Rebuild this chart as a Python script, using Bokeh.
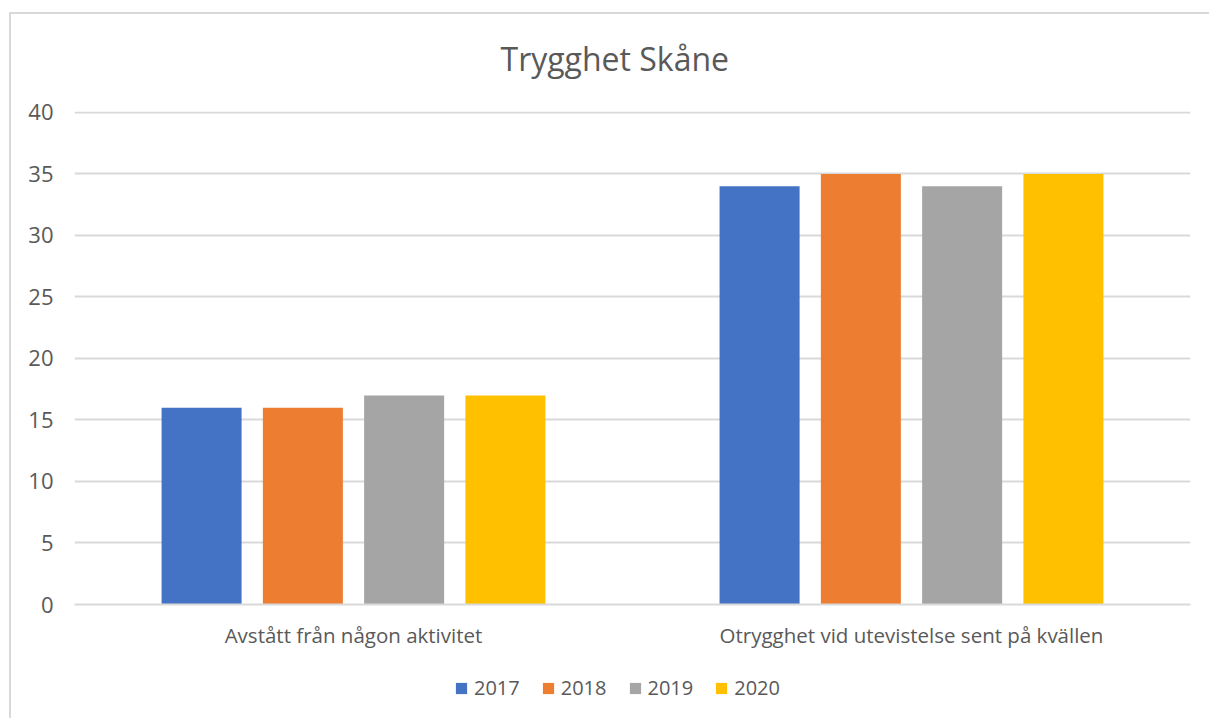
from bokeh.plotting import figure
from bokeh.layouts import column
from bokeh.models import (FactorRange, Range1d, ColumnDataSource, Legend, LegendItem,
                          SingleIntervalTicker)
from bokeh.transform import dodge
from bokeh.embed import file_html
from bokeh.resources import INLINE

categories = ["Avstått från någon aktivitet", "Otrygghet vid utevistelse sent på kvällen"]
years = ["2017", "2018", "2019", "2020"]
v2017 = [16, 34]
v2018 = [16, 35]
v2019 = [17, 34]
v2020 = [17, 35]
series = [v2017, v2018, v2019, v2020]
colors = ["#4472C4", "#ED7D31", "#A5A5A5", "#FFC000"]
title_text = "Trygghet Skåne"

FONT = "Open Sans"
TXT = "#595959"
LINE = "#d9d9d9"

src = ColumnDataSource(dict(cat=categories, **{y: s for y, s in zip(years, series)}))

# ---------------- main chart ----------------
p = figure(width=1209, height=660, frame_width=1116, frame_height=493,
           x_range=FactorRange(*categories, range_padding=0),
           y_range=Range1d(0, 40.08), output_backend="svg", toolbar_location=None,
           min_border_left=74, min_border_right=19, min_border_top=111, min_border_bottom=56)
p.styles = {"background": (f"linear-gradient({LINE}, {LINE}) 9px 12px / 2px 100% no-repeat, "
                           f"linear-gradient({LINE}, {LINE}) 9px 12px / 100% 2px no-repeat, white")}
p.outline_line_color = None
p.background_fill_color = "white"
p.border_fill_color = None

p.title.text = title_text
p.title.align = "left"
p.title.offset = 426
p.title.standoff = 64
p.title.text_font = FONT
p.title.text_font_size = "32px"
p.title.text_font_style = "normal"
p.title.text_color = TXT

width = 0.1434
step = 0.1815
for i, (yr, col) in enumerate(zip(years, colors)):
    p.vbar(x=dodge("cat", (i - 1.5) * step, range=p.x_range), top=yr, width=width,
           source=src, fill_color=col, line_color=None)

p.xgrid.grid_line_color = None
p.ygrid.grid_line_color = LINE
p.ygrid.grid_line_width = 2
p.yaxis.ticker = SingleIntervalTicker(interval=5)

p.yaxis.axis_line_color = None
p.yaxis.major_tick_line_color = None
p.yaxis.minor_tick_line_color = None
p.yaxis.major_label_standoff = 15
p.yaxis.major_label_text_font = FONT
p.yaxis.major_label_text_font_size = "22px"
p.yaxis.major_label_text_color = TXT

p.xaxis.axis_line_color = LINE
p.xaxis.axis_line_width = 2
p.xaxis.major_tick_line_color = None
p.xaxis.minor_tick_line_color = None
p.xaxis.major_label_standoff = 10
p.xaxis.major_label_text_font = FONT
p.xaxis.major_label_text_font_size = "20.5px"
p.xaxis.major_label_text_color = TXT

# ---------------- legend strip ----------------
# same series drawn against a y-range far above the data, so only the legend shows
leg = figure(width=1209, height=58, output_backend="svg", toolbar_location=None,
             x_range=FactorRange(*categories, range_padding=0), y_range=Range1d(1000, 1001),
             x_axis_location=None, y_axis_location=None,
             min_border_left=0, min_border_right=0, min_border_top=0, min_border_bottom=0)
leg.styles = {"background": f"linear-gradient({LINE}, {LINE}) 9px 0px / 2px 100% no-repeat, white"}
leg.outline_line_color = None
leg.background_fill_color = None
leg.border_fill_color = None
leg.grid.grid_line_color = None

swatches = []
for i, (yr, col) in enumerate(zip(years, colors)):
    swatches.append(leg.vbar(x=dodge("cat", (i - 1.5) * step, range=leg.x_range), top=yr,
                             width=width, source=src, fill_color=col, line_color=None))

legend = Legend(items=[LegendItem(label=y, renderers=[r]) for y, r in zip(years, swatches)],
                orientation="horizontal", location=(380, 17),
                label_text_font=FONT, label_text_font_size="20px", label_text_color=TXT,
                glyph_width=14, glyph_height=14, spacing=21, label_standoff=6,
                border_line_color=None, background_fill_alpha=0, padding=0, margin=0)
leg.add_layout(legend, "center")

layout = column(p, leg, spacing=0)
open("out.html", "w").write(file_html(layout, INLINE))
